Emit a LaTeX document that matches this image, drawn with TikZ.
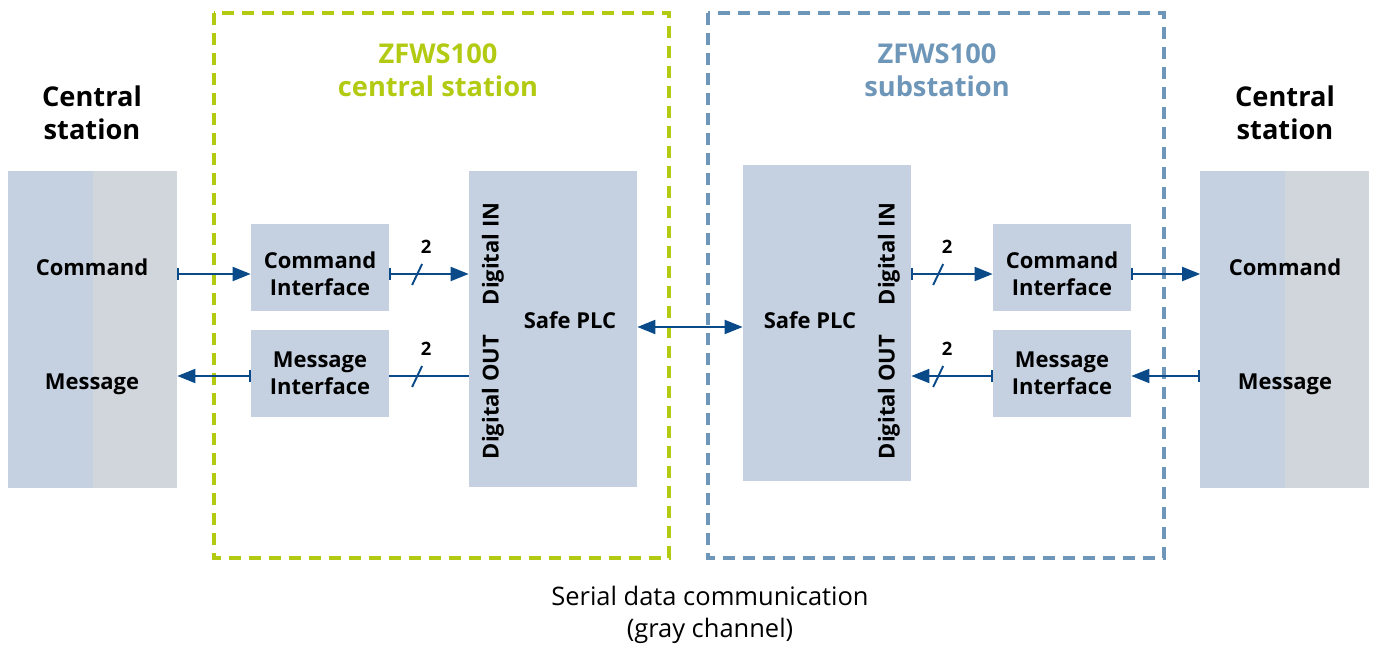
\documentclass[tikz,border=0pt]{standalone}
\usepackage{fontspec}
\setmainfont{Open Sans}
\usetikzlibrary{arrows.meta,positioning,calc}
\definecolor{boxblue}{HTML}{C5D1E0}
\definecolor{boxgray}{HTML}{D1D6DC}
\definecolor{wireblue}{HTML}{0B4A89}
\definecolor{zfgreen}{HTML}{B3CA13}
\definecolor{zfsteel}{HTML}{6E96B9}

\begin{document}
\begin{tikzpicture}[x=0.02cm,y=-0.02cm,
    block/.style={fill=boxblue,inner sep=0pt},
    iface/.style={block,minimum width=2.76cm,minimum height=1.74cm},
    plc/.style={block,minimum width=3.36cm,minimum height=6.32cm},
    station/.style={fill=boxgray,inner sep=0pt,minimum width=3.38cm,minimum height=6.34cm},
    lbl/.style={align=center,font=\bfseries\fontsize{12.5}{15.5}\selectfont},
    title/.style={align=center,font=\bfseries\fontsize{15.5}{19}\selectfont},
    frame/.style={line width=2.3pt,dash pattern=on 0.24cm off 0.16cm},
    wire/.style={wireblue,line width=1.1pt},
    tip/.style={wire,{Bar[width=0.24cm]}-{Triangle[length=0.36cm,width=0.28cm]}},
    slash/.style={wireblue,line width=1.1pt},
    buslbl/.style={font=\bfseries\fontsize{10.5}{12}\selectfont}]
  \useasboundingbox (0,0) rectangle (1377,651);

  % rows of the wires
  \coordinate (cmdrow) at (0,274);
  \coordinate (msgrow) at (0,376);

  % dashed frames
  \draw[frame,zfgreen] (214,13) rectangle (669,558);
  \draw[frame,zfsteel] (708,13) rectangle (1164,558);
  \node[title,text=zfgreen] (tgreen) at (438,70) {ZFWS100\\central station};
  \node[title,text=zfsteel] (tsteel) at (937,70) {ZFWS100\\substation};

  % central stations
  \node[station] (csL) at (92.5,329.5) {};
  \fill[boxblue] (csL.north west) rectangle (csL.south);
  \node[station] (csR) at (1285,329.5) {};
  \fill[boxblue] (csR.north west) rectangle (csR.south);
  \node[title] (tcsL) at (92,113) {Central\\station};
  \node[title] (tcsR) at (1285,113) {Central\\station};
  \node[lbl] at (92,267) {Command};
  \node[lbl] at (92,384) {Message};
  \node[lbl] at (1285,267) {Command};
  \node[lbl] at (1285,384) {Message};

  % interfaces
  \node[iface] (cifL) at (320,267.5) {};
  \node[iface] (mifL) at (320,373.5) {};
  \node[iface] (cifR) at (1062,267.5) {};
  \node[iface] (mifR) at (1062,373.5) {};
  \node[lbl] at ([yshift=-3.4pt]cifL.center) {Command\\Interface};
  \node[lbl] at (mifL.center) {Message\\Interface};
  \node[lbl] at ([yshift=-3.4pt]cifR.center) {Command\\Interface};
  \node[lbl] at (mifR.center) {Message\\Interface};

  % safe PLCs
  \node[plc] (plcL) at (553,329) {};
  \node[plc] (plcR) at (827,323) {};
  \node[lbl] at (570,320) {Safe PLC};
  \node[lbl] at (810,320) {Safe PLC};
  \node[lbl,rotate=90] at (493,254) {Digital IN};
  \node[lbl,rotate=90] at (493,397) {Digital OUT};
  \node[lbl,rotate=90] at (889,254) {Digital IN};
  \node[lbl,rotate=90] at (889,397) {Digital OUT};

  % connectors
  \draw[tip] (csL.east |- cmdrow) -- (cifL.west |- cmdrow);
  \draw[tip] (mifL.west |- msgrow) -- (csL.east |- msgrow);
  \draw[tip] (cifL.east |- cmdrow) -- coordinate[pos=0.35] (b1) (plcL.west |- cmdrow);
  \draw[wire] (plcL.west |- msgrow) -- coordinate[pos=0.65] (b2) (mifL.east |- msgrow);
  \draw[wire,{Triangle[length=0.36cm,width=0.28cm]}-{Triangle[length=0.36cm,width=0.28cm]}]
    (plcL.east |- 0,327) -- (plcR.west |- 0,327);
  \draw[tip] (plcR.east |- cmdrow) -- coordinate[pos=0.33] (b3) (cifR.west |- cmdrow);
  \draw[tip] (mifR.west |- msgrow) -- coordinate[pos=0.67] (b4) (plcR.east |- msgrow);
  \draw[tip] (cifR.east |- cmdrow) -- (csR.west |- cmdrow);
  \draw[tip] (csR.west |- msgrow) -- (mifR.east |- msgrow);

  % bus width marks
  \foreach \b in {b1,b2,b3,b4} {
    \draw[slash] ($(\b)+(-5,11)$) -- ($(\b)+(5,-10)$);
    \node[buslbl] at ($(\b)+(9,-27)$) {2};
  }

  \node[align=center,font=\fontsize{14.5}{18.5}\selectfont] (serial) at (710,615)
    {Serial data communication\\(gray channel)};
\end{tikzpicture}
\end{document}
